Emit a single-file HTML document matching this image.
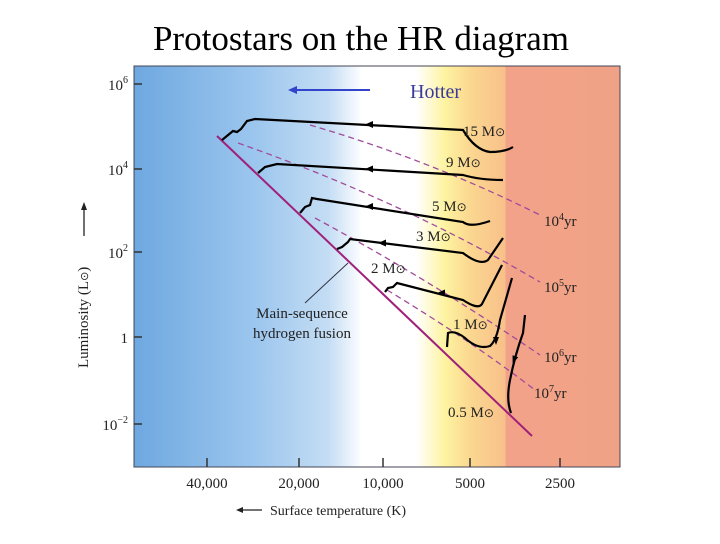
<!DOCTYPE html>
<html><head><style>
body{margin:0;background:#fff;}
svg text{font-family:"Liberation Serif",serif;}
</style></head><body>
<svg width="720" height="539" viewBox="0 0 720 539" xmlns="http://www.w3.org/2000/svg">
<defs>
<linearGradient id="bg" x1="134" y1="0" x2="620" y2="0" gradientUnits="userSpaceOnUse">
<stop offset="0" stop-color="#6ea8e0"/>
<stop offset="0.25" stop-color="#9cc6ee"/>
<stop offset="0.40" stop-color="#c4ddf4"/>
<stop offset="0.47" stop-color="#ffffff"/>
<stop offset="0.58" stop-color="#ffffff"/>
<stop offset="0.64" stop-color="#fdf3a0"/>
<stop offset="0.69" stop-color="#fbd890"/>
<stop offset="0.764" stop-color="#f8c08a"/>
<stop offset="0.765" stop-color="#f2a288"/>
<stop offset="1" stop-color="#f0a286"/>
</linearGradient>
</defs>
<text x="361" y="50" font-size="35" text-anchor="middle">Protostars on the HR diagram</text>
<rect x="134" y="66" width="486" height="401" fill="url(#bg)" stroke="#445" stroke-width="1"/>
<g stroke="#333" stroke-width="1.5">
<line x1="134" y1="84" x2="142" y2="84"/><line x1="134" y1="169" x2="142" y2="169"/><line x1="134" y1="252" x2="142" y2="252"/><line x1="134" y1="337" x2="142" y2="337"/><line x1="134" y1="424" x2="142" y2="424"/>
<line x1="207" y1="467" x2="207" y2="458"/><line x1="299" y1="467" x2="299" y2="458"/><line x1="383" y1="467" x2="383" y2="458"/><line x1="470" y1="467" x2="470" y2="458"/><line x1="560" y1="467" x2="560" y2="458"/>
</g>
<g font-size="15" text-anchor="end" fill="#222">
<text x="128" y="90">10<tspan dy="-7" font-size="10">6</tspan></text>
<text x="128" y="175">10<tspan dy="-7" font-size="10">4</tspan></text>
<text x="128" y="258">10<tspan dy="-7" font-size="10">2</tspan></text>
<text x="128" y="343">1</text>
<text x="128" y="430">10<tspan dy="-7" font-size="10">−2</tspan></text>
</g>
<g font-size="15" text-anchor="middle" fill="#222">
<text x="207" y="488">40,000</text><text x="299" y="488">20,000</text><text x="383" y="488">10,000</text><text x="470" y="488">5000</text><text x="560" y="488">2500</text>
</g>
<text x="270" y="515" font-size="14" fill="#222">Surface temperature (K)</text>
<line x1="262" y1="510" x2="238" y2="510" stroke="#222" stroke-width="1.3"/><path d="M236,510 l7,-3 v6z" fill="#222"/>
<text transform="translate(88,368) rotate(-90)" font-size="15" fill="#222">Luminosity (L<tspan font-size="11">⊙</tspan>)</text>
<line x1="84" y1="236" x2="84" y2="208" stroke="#222" stroke-width="1.3"/><path d="M84,202 l-3,8 h6z" fill="#222"/>
<line x1="370" y1="90" x2="295" y2="90" stroke="#3344cc" stroke-width="2"/><path d="M288,90 l9,-4 v8z" fill="#3344cc"/>
<text x="410" y="98" font-size="20" fill="#3a3a9a">Hotter</text>
<g stroke="#a04c9a" stroke-width="1.3" fill="none" stroke-dasharray="6,4">
<path d="M310,125 Q430,160 540,215"/>
<path d="M238,143 Q400,200 540,282"/>
<path d="M315,218 Q430,280 540,355"/>
<path d="M387,290 Q470,340 535,390"/>
</g>
<line x1="217" y1="136" x2="532" y2="436" stroke="#a0207a" stroke-width="2"/>
<g stroke="#000" stroke-width="2.2" fill="none">
<path d="M222,140 L233,131 L237,132 L241,129 L247,121 L255,119 L463,130 Q475,150 490,152 Q505,152 513,147"/>
<path d="M258,173 L265,167 L277,164 L463,175 Q480,180 503,180"/>
<path d="M300,213 L305,207 L310,205 L312,198 L317,199 L463,222 Q470,228 490,221"/>
<path d="M337,249 L342,247 L348,242 L350,239 L463,253 Q480,266 488,260 L503,238"/>
<path d="M385,292 L388,288 L393,287 L397,283 L463,300 Q478,310 482,304 L502,265"/>
<path d="M447,347 L448,333 Q455,330 465,338 Q478,350 490,346 Q497,340 500,320 L512,278"/>
<path d="M525,315 L523,333 Q515,355 510,380 Q506,400 511,413"/>
</g>
<g fill="#000">
<path d="M365,124.5 l8,-3.5 v7z"/><path d="M365,169 l8,-3.5 v7z"/><path d="M365,206.5 l8,-3.5 v7z"/><path d="M378,243 l8,-3.5 v7z"/><path d="M437,293 l8,-3.5 v7z"/>
<path d="M496,345 l-3,-8 h6z"/><path d="M514,364 l-3,-8 h6z" transform="rotate(20,514,360)"/>
</g>
<g font-size="15" fill="#222">
<text x="463" y="136">15 M<tspan font-size="12">⊙</tspan></text>
<text x="446" y="167">9 M<tspan font-size="12">⊙</tspan></text>
<text x="432" y="211">5 M<tspan font-size="12">⊙</tspan></text>
<text x="416" y="241">3 M<tspan font-size="12">⊙</tspan></text>
<text x="371" y="273">2 M<tspan font-size="12">⊙</tspan></text>
<text x="453" y="329">1 M<tspan font-size="12">⊙</tspan></text>
<text x="448" y="417">0.5 M<tspan font-size="12">⊙</tspan></text>
<text x="544" y="226">10<tspan dy="-6" font-size="10">4</tspan><tspan dy="6">yr</tspan></text>
<text x="544" y="292">10<tspan dy="-6" font-size="10">5</tspan><tspan dy="6">yr</tspan></text>
<text x="544" y="362">10<tspan dy="-6" font-size="10">6</tspan><tspan dy="6">yr</tspan></text>
<text x="534" y="398">10<tspan dy="-6" font-size="10">7</tspan><tspan dy="6">yr</tspan></text>
<text x="302" y="318" text-anchor="middle">Main-sequence</text>
<text x="302" y="338" text-anchor="middle">hydrogen fusion</text>
</g>
<line x1="305" y1="303" x2="348" y2="263" stroke="#334" stroke-width="1"/>
</svg>
</body></html>
